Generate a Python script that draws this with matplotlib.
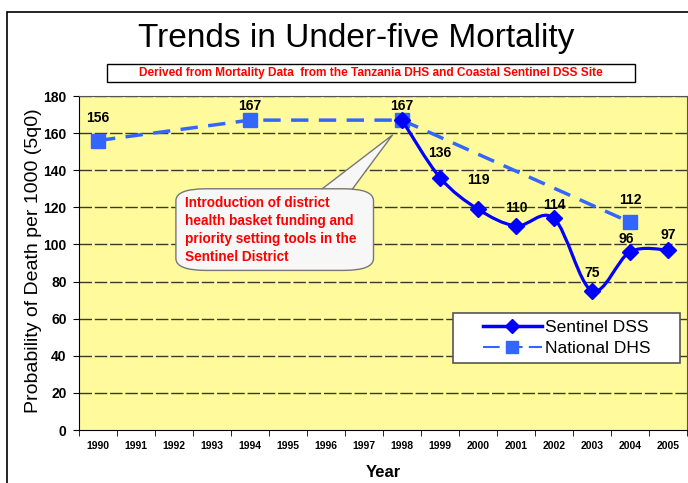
"""Trends in under-five mortality, Tanzania DHS vs Sentinel DSS."""
import matplotlib
matplotlib.use("Agg")
import matplotlib.pyplot as plt
from matplotlib.path import Path
from matplotlib.patches import PathPatch, FancyBboxPatch, Polygon, Rectangle
from matplotlib.lines import Line2D

years = [str(y) for y in range(1990, 2006)]

dss_years = ["1998", "1999", "2000", "2001", "2002", "2003", "2004", "2005"]
dss_values = [167, 136, 119, 110, 114, 75, 96, 97]

dhs_years = ["1990", "1994", "1998", "2004"]
dhs_values = [156, 167, 167, 112]

# label offsets in points (dx, dy)
dss_label_off = [(0, 0), (0, 13), (0, 16), (0, 8), (0, 5), (0, 8), (-3, 4), (0, 6)]
dhs_label_off = [(0, 11), (0, 5), (0, 5), (0, 11)]

ARIAL = ["Liberation Sans", "DejaVu Sans"]

fig = plt.figure(figsize=(6.88, 4.83), dpi=100)
fig.patch.set_facecolor("white")

# outer frame
fig.add_artist(Rectangle((7 / 688, -0.1), 1.2, 1 - 12 / 483 + 0.1,
                         transform=fig.transFigure, fill=False,
                         edgecolor="black", linewidth=1.2))

fig.text(0.518, 1 - 38 / 483, "Trends in Under-five Mortality",
         ha="center", va="center", fontsize=24, family=ARIAL)
fig.add_artist(Rectangle((107 / 688, 1 - 82 / 483), 528 / 688, 18 / 483,
                         transform=fig.transFigure, facecolor="white",
                         edgecolor="black", linewidth=1))
fig.text(371 / 688, 1 - 73 / 483,
         "Derived from Mortality Data  from the Tanzania DHS and Coastal Sentinel DSS Site",
         ha="center", va="center", fontsize=8.6, color="red", fontweight="bold",
         family=ARIAL)

ax = fig.add_axes([79 / 688, 1 - 430 / 483, 608 / 688, 334 / 483])
ax.set_facecolor("#FFFB9C")
ax.set_xlim(-0.5, len(years) - 0.5)
ax.set_ylim(0, 180)
ax.set_yticks(range(0, 181, 20))
ax.set_xticks(range(len(years)))
ax.set_xticklabels(years)
ax.set_xticks([i + 0.5 for i in range(-1, len(years))], minor=True)
ax.tick_params(axis="x", which="major", length=0, pad=8)
ax.tick_params(axis="x", which="minor", length=4)
ax.tick_params(axis="y", length=4, pad=5)
for lab in ax.get_xticklabels():
    lab.set_fontsize(7.5)
    lab.set_fontweight("bold")
    lab.set_family(ARIAL)
for lab in ax.get_yticklabels():
    lab.set_fontsize(10)
    lab.set_fontweight("bold")
    lab.set_family(ARIAL)
for v in range(20, 181, 20):
    ax.axhline(v, color="#3a3a2a", linewidth=1.0, linestyle=(0, (9, 2)), zorder=1)
ax.spines["top"].set_color("#555555")
ax.spines["right"].set_color("#555555")

ax.set_xlabel("Year", fontsize=12, fontweight="bold", family=ARIAL, labelpad=10)
ax.set_ylabel("Probability of Death per 1000 (5q0)", fontsize=14,
              family=ARIAL)
ax.yaxis.set_label_coords(-37 / 608, (430 - 261) / 334)

# National DHS dashed
dhs_x = [years.index(y) for y in dhs_years]
ax.plot(dhs_x, dhs_values, color="#3366FF", linewidth=2.5,
        linestyle=(0, (5, 3)), marker="s", markersize=10, zorder=3)

# Sentinel DSS smoothed line (cubic Bezier segments through the points)
dss_x = [years.index(y) for y in dss_years]
pts = list(zip(dss_x, dss_values))
verts = [pts[0]]
codes = [Path.MOVETO]
n = len(pts)
for i in range(n - 1):
    p0 = pts[max(i - 1, 0)]
    p1 = pts[i]
    p2 = pts[i + 1]
    p3 = pts[min(i + 2, n - 1)]
    c1 = (p1[0] + (p2[0] - p0[0]) / 6, p1[1] + (p2[1] - p0[1]) / 6)
    c2 = (p2[0] - (p3[0] - p1[0]) / 6, p2[1] - (p3[1] - p1[1]) / 6)
    verts += [c1, c2, p2]
    codes += [Path.CURVE4] * 3
ax.add_patch(PathPatch(Path(verts, codes), facecolor="none",
                       edgecolor="#0000FF", linewidth=2.3, zorder=4))
ax.plot(dss_x, dss_values, linestyle="none", marker="D", markersize=8,
        color="#0000FF", zorder=5)

for x, v, off in zip(dss_x[1:], dss_values[1:], dss_label_off[1:]):
    ax.annotate(str(v), (x, v), xytext=off, textcoords="offset points",
                ha="center", va="bottom", fontsize=10, fontweight="bold",
                family=ARIAL, zorder=6)
for x, v, off in zip(dhs_x, dhs_values, dhs_label_off):
    ax.annotate(str(v), (x, v), xytext=off, textcoords="offset points",
                ha="center", va="bottom", fontsize=10, fontweight="bold",
                family=ARIAL, zorder=6)

# callout box
box = FancyBboxPatch((2.05, 86), 5.2, 44,
                     boxstyle="round,pad=0,rounding_size=0.8",
                     mutation_aspect=8, facecolor="#F7F7F7",
                     edgecolor="#777777", linewidth=1, zorder=6)
ax.add_patch(box)
ax.add_patch(Polygon([(5.9, 130.5), (7.75, 159), (6.7, 130.5)], closed=True,
                     facecolor="#F7F7F7", edgecolor="none", zorder=7))
ax.add_artist(Line2D([5.9, 7.75, 6.7], [130, 159, 130], color="#777777",
                     linewidth=1, zorder=7))
ax.text(2.3, 126.3, "Introduction of district\nhealth basket funding and\n"
        "priority setting tools in the\nSentinel District",
        ha="left", va="top", fontsize=9.8, color="red", fontweight="bold",
        family=ARIAL, linespacing=1.38, zorder=8)

# legend: frame drawn separately, entries centred inside it
ax.add_patch(Rectangle(((453 - 79) / 608, (430 - 363) / 334), 227 / 608, 50 / 334,
                       transform=ax.transAxes, facecolor="white",
                       edgecolor="#555555", linewidth=1.2, zorder=9))
handles = [
    Line2D([], [], color="#0000FF", linewidth=2.5, marker="D", markersize=7),
    Line2D([], [], color="#3366FF", linewidth=1.5, linestyle=(0, (8, 3)),
           marker="s", markersize=9),
]
leg = ax.legend(handles, ["Sentinel DSS", "National DHS"],
                loc="center",
                bbox_to_anchor=((566.5 - 79) / 608, (430 - 338) / 334),
                fontsize=12.5, frameon=False, handlelength=3.4,
                handletextpad=0.2, borderpad=0, labelspacing=0.35,
                borderaxespad=0)
leg.set_zorder(10)
for t in leg.get_texts():
    t.set_family(ARIAL)

fig.savefig("out.png", dpi=100)
